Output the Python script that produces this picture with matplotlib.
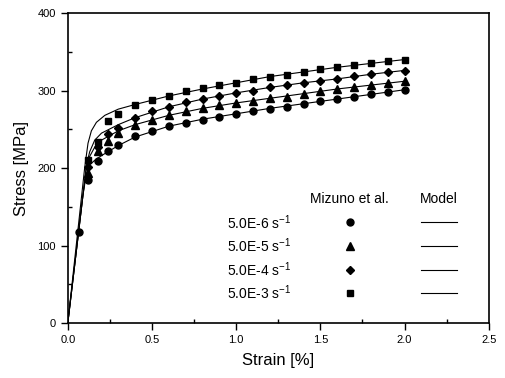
import matplotlib
matplotlib.use("Agg")
import matplotlib.pyplot as plt
import numpy as np
from matplotlib.ticker import MultipleLocator

plt.rcParams['font.family'] = ['Liberation Sans', 'DejaVu Sans']
plt.rcParams['mathtext.fontset'] = 'custom'
plt.rcParams['mathtext.rm'] = 'Liberation Sans'

# measured points (Mizuno et al.)
strain_pts = [0.12, 0.18, 0.24, 0.30, 0.4, 0.5, 0.6, 0.7, 0.8, 0.9, 1.0,
              1.1, 1.2, 1.3, 1.4, 1.5, 1.6, 1.7, 1.8, 1.9, 2.0]
stress_e6 = [184, 209, 222, 230, 241, 248, 254, 258, 262, 266, 269.6,
             273, 276.5, 279, 283, 286, 289, 292, 295, 298.7, 301]
stress_e5 = [194, 222, 235, 245, 255, 262, 268, 274, 277, 281, 284,
             287, 290, 292, 296, 299, 302, 305, 307, 310, 312]
stress_e4 = [201, 227, 244, 252, 265, 273, 279, 285, 289, 293, 297,
             300, 304, 307, 310, 312.4, 315.4, 319, 321.4, 323.5, 325.6]
stress_e3 = [210, 233, 261, 270, 281, 288, 293, 299.6, 303, 306.5, 310,
             315, 318, 320.5, 324, 327.3, 330, 332.4, 335, 337.6, 339.7]
# elastic point
strain_el = [0.067]
stress_el = [117]

# model curves
model_x = [0, 0.09, 0.11, 0.13, 0.16, 0.2, 0.3, 0.4, 0.6, 0.8, 1.0, 1.2, 1.4, 1.6, 1.8, 2.0]
model_e6 = [0, 165, 192, 204, 210, 216, 229, 240, 254, 263, 270, 277, 283, 289, 295, 301]
model_e5 = [0, 165, 200, 215, 227, 236, 248, 256, 268, 277, 284, 290, 296, 302, 307, 312]
model_e4 = [0, 165, 203, 221, 236, 245, 256, 265, 279, 289, 297, 304, 310, 315, 321, 326]
model_x3 = [0, 0.085, 0.1, 0.12, 0.14, 0.17, 0.22, 0.3, 0.4, 0.6, 0.8, 1.0, 1.2, 1.4, 1.6, 1.8, 2.0]
model_e3 = [0, 170, 200, 232, 248, 259, 268, 276, 282, 293, 302, 310, 318, 324, 330, 335, 340]

labels = ['5.0E-6 s$^{-1}$', '5.0E-5 s$^{-1}$', '5.0E-4 s$^{-1}$', '5.0E-3 s$^{-1}$']
markers = ['o', '^', 'D', 's']
msizes = [5, 5.5, 4.5, 4.5]

fig = plt.figure(figsize=(5.06, 3.78), dpi=100)
ax = fig.add_axes([0.134, 0.1455, 0.832, 0.82])

for mx, my in [(model_x, model_e6), (model_x, model_e5), (model_x, model_e4), (model_x3, model_e3)]:
    ax.plot(mx, my, color='black', lw=0.8)

for ys, m, ms in zip([stress_e6, stress_e5, stress_e4, stress_e3], markers, msizes):
    ax.plot(strain_pts, ys, linestyle='none', marker=m, ms=ms, color='black')
ax.plot(strain_el, stress_el, linestyle='none', marker='o', ms=5, color='black')

ax.set_xlim(0, 2.5)
ax.set_ylim(0, 400)
ax.xaxis.set_major_locator(MultipleLocator(0.5))
ax.xaxis.set_minor_locator(MultipleLocator(0.25))
ax.yaxis.set_major_locator(MultipleLocator(100))
ax.yaxis.set_minor_locator(MultipleLocator(50))
ax.xaxis.set_major_formatter(plt.FormatStrFormatter('%.1f'))
ax.tick_params(which='major', direction='out', length=5, width=1, labelsize=8)
ax.tick_params(which='minor', direction='in', length=3, width=1)
for s in ax.spines.values():
    s.set_linewidth(1.2)

ax.set_xlabel('Strain [%]', fontsize=12, labelpad=6)
ax.set_ylabel('Stress [MPa]', fontsize=12, labelpad=6)

# legend block (axes fraction)
hx_marker = 0.67
hx_line0, hx_line1 = 0.838, 0.924
ax.text(hx_marker, 0.40, 'Mizuno et al.', ha='center', va='center',
        fontsize=10, transform=ax.transAxes)
ax.text((hx_line0 + hx_line1) / 2, 0.40, 'Model', ha='center', va='center',
        fontsize=10, transform=ax.transAxes)
row_y = [0.325, 0.248, 0.171, 0.097]
for ry, lab, m, ms in zip(row_y, labels, markers, msizes):
    ax.text(0.378, ry, lab, ha='left', va='center', fontsize=10,
            transform=ax.transAxes)
    ax.plot([hx_marker], [ry], transform=ax.transAxes, marker=m, ms=ms,
            color='black', linestyle='none', clip_on=False)
    ax.plot([hx_line0, hx_line1], [ry, ry], transform=ax.transAxes,
            color='black', lw=0.8, clip_on=False)

fig.savefig('out.png', dpi=100)
